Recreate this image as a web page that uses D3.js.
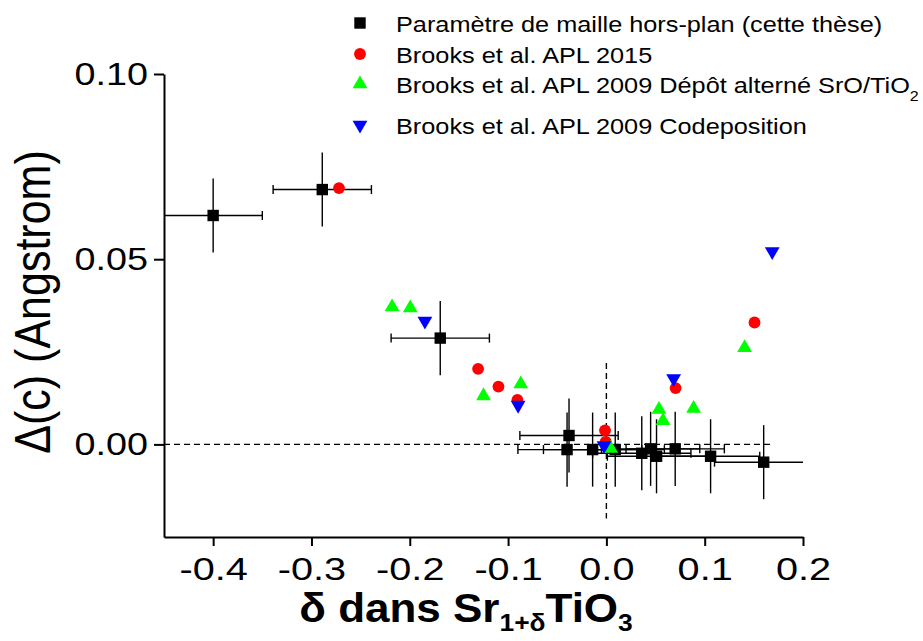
<!DOCTYPE html>
<html>
<head>
<meta charset="utf-8">
<script src="https://cdn.jsdelivr.net/npm/d3@7/dist/d3.min.js"></script>
<style>
  body { margin: 0; background: #fff; }
  svg { display: block; font-family: "Liberation Sans", Arial, sans-serif; }
</style>
</head>
<body>
<svg id="chart" width="923" height="641"></svg>
<script>
// cette thèse : paramètre de maille hors-plan, avec barres d'erreur
var theseX    = [-0.400, -0.289, -0.169, -0.038, -0.040, -0.014, 0.009, 0.036, 0.045, 0.051, 0.070, 0.106, 0.160];
var theseY    = [0.0618, 0.0688, 0.0287, 0.0024, -0.0014, -0.0014, -0.0014, -0.0024, -0.0012, -0.0032, -0.0012, -0.0032, -0.0048];
var theseXErr = [0.05, 0.05, 0.05, 0.05, 0.05, 0.05, 0.05, 0.05, 0.05, 0.05, 0.05, 0.05, 0.05];
var theseYErr = [0.01, 0.01, 0.01, 0.01, 0.01, 0.01, 0.01, 0.01, 0.01, 0.01, 0.01, 0.01, 0.01];

// Brooks et al. APL 2015
var b2015X = [-0.272, -0.1305, -0.1098, -0.0905, -0.0014, -0.0007, 0.0704, 0.1507];
var b2015Y = [0.0692, 0.0204, 0.0156, 0.0120, 0.0038, 0.0007, 0.0152, 0.0329];

// Brooks et al. APL 2009 dépôt alterné
var b2009AltX = [-0.218, -0.1995, -0.125, -0.0871, 0.0044, 0.0535, 0.0576, 0.0887, 0.1406];
var b2009AltY = [0.0371, 0.0368, 0.0131, 0.0163, -0.0011, 0.0094, 0.0064, 0.0097, 0.0261];

// Brooks et al. APL 2009 codeposition
var b2009CoX = [-0.1846, -0.0898, -0.0024, 0.0684, 0.1687];
var b2009CoY = [0.0333, 0.0106, -0.0003, 0.0178, 0.0521];

var xMajor = [-0.4, -0.3, -0.2, -0.1, 0.0, 0.1, 0.2];
var xMinor = [-0.45, -0.35, -0.25, -0.15, -0.05, 0.05, 0.15];
var yMajor = [0.00, 0.05, 0.10];
var yMinor = [-0.025, 0.025, 0.075];

var legendLabels = [
  "Paramètre de maille hors-plan (cette thèse)",
  "Brooks et al. APL 2015",
  "Brooks et al. APL 2009 Dépôt alterné SrO/TiO",
  "Brooks et al. APL 2009 Codeposition"
];

var svg = d3.select("#chart");

var x = d3.scaleLinear().domain([-0.45, 0.2]).range([164, 803]);
var y = d3.scaleLinear().domain([-0.025, 0.10]).range([537, 74]);

var sx = 1.18; // police un peu étirée en largeur

svg.append("clipPath").attr("id", "plotclip")
  .append("rect")
    .attr("x", x(-0.45))
    .attr("y", 0)
    .attr("width", x(0.2) - x(-0.45))
    .attr("height", 641);

// lignes pointillées à zéro
svg.append("line")
  .attr("x1", x(-0.45)).attr("x2", x(0.167))
  .attr("y1", y(0)).attr("y2", y(0))
  .attr("stroke", "#000").attr("stroke-width", 1.4)
  .attr("stroke-dasharray", "6,4");
svg.append("line")
  .attr("x1", x(0)).attr("x2", x(0))
  .attr("y1", y(0.022)).attr("y2", y(-0.020))
  .attr("stroke", "#000").attr("stroke-width", 1.4)
  .attr("stroke-dasharray", "6,4");

// axes
var gx = svg.append("g").attr("transform", "translate(0," + y(-0.025) + ")");
gx.call(d3.axisBottom(x).tickValues(xMinor).tickSize(5).tickSizeOuter(0).tickFormat(""));
gx.call(d3.axisBottom(x).tickValues(xMajor).tickSize(9).tickSizeOuter(0).tickPadding(11)
  .tickFormat(function(d){ return d.toFixed(1); }));
gx.selectAll("path, line").attr("stroke", "#000").attr("stroke-width", 2);
gx.selectAll("text")
  .attr("font-size", 32)
  .attr("font-family", "Liberation Sans, Arial, sans-serif")
  .attr("fill", "#000")
  .attr("transform", "scale(1.24,1)");

var gy = svg.append("g").attr("transform", "translate(" + x(-0.45) + ",0)");
gy.call(d3.axisLeft(y).tickValues(yMinor).tickSize(5).tickSizeOuter(0).tickFormat(""));
gy.call(d3.axisLeft(y).tickValues(yMajor).tickSize(10).tickSizeOuter(0).tickPadding(7)
  .tickFormat(d3.format(".2f")));
gy.selectAll("path, line").attr("stroke", "#000").attr("stroke-width", 2);
gy.selectAll("text")
  .attr("font-size", 32)
  .attr("font-family", "Liberation Sans, Arial, sans-serif")
  .attr("fill", "#000")
  .attr("x", -16 / sx)
  .attr("transform", "scale(" + sx + ",1)");

// barres d'erreur
var these = theseX.map(function(d, i){
  return {x: d, y: theseY[i], ex: theseXErr[i], ey: theseYErr[i]};
});
var gErr = svg.append("g").attr("clip-path", "url(#plotclip)")
  .attr("stroke", "#000").attr("stroke-width", 1.4);
gErr.selectAll("line.h").data(these).enter().append("line")
  .attr("x1", function(d){ return x(d.x - d.ex); })
  .attr("x2", function(d){ return x(d.x + d.ex); })
  .attr("y1", function(d){ return y(d.y); })
  .attr("y2", function(d){ return y(d.y); });
gErr.selectAll("line.v").data(these).enter().append("line")
  .attr("x1", function(d){ return x(d.x); })
  .attr("x2", function(d){ return x(d.x); })
  .attr("y1", function(d){ return y(d.y + d.ey); })
  .attr("y2", function(d){ return y(d.y - d.ey); });
gErr.selectAll("line.capl").data(these).enter().append("line")
  .attr("x1", function(d){ return x(d.x - d.ex); })
  .attr("x2", function(d){ return x(d.x - d.ex); })
  .attr("y1", function(d){ return y(d.y) - 4.5; })
  .attr("y2", function(d){ return y(d.y) + 4.5; });
gErr.selectAll("line.capr").data(these).enter().append("line")
  .attr("x1", function(d){ return x(d.x + d.ex); })
  .attr("x2", function(d){ return x(d.x + d.ex); })
  .attr("y1", function(d){ return y(d.y) - 4.5; })
  .attr("y2", function(d){ return y(d.y) + 4.5; });

// symboles
var symSquare = d3.symbol().type(d3.symbolSquare).size(130)();
var symCircle = d3.symbol().type(d3.symbolCircle).size(110)();
var symTri = d3.symbol().type(d3.symbolTriangle).size(95)();

function drawSeries(xs, ys, path, color, rot){
  svg.append("g").selectAll("path").data(xs).enter().append("path")
    .attr("d", path)
    .attr("fill", color)
    .attr("transform", function(d, i){
      return "translate(" + x(d) + "," + y(ys[i]) + ")" + (rot ? " rotate(180)" : "");
    });
}
drawSeries(theseX, theseY, symSquare, "#000", false);
drawSeries(b2015X, b2015Y, symCircle, "#ff0000", false);
drawSeries(b2009AltX, b2009AltY, symTri, "#00ff00", false);
drawSeries(b2009CoX, b2009CoY, symTri, "#0000ff", true);

// légende
var legSyms = [
  {p: symSquare, c: "#000", r: false},
  {p: symCircle, c: "#ff0000", r: false},
  {p: symTri, c: "#00ff00", r: false},
  {p: symTri, c: "#0000ff", r: true}
];
var legY = [23, 54, 84, 125];
var gLeg = svg.append("g");
legendLabels.forEach(function(lab, i){
  gLeg.append("path")
    .attr("d", legSyms[i].p)
    .attr("fill", legSyms[i].c)
    .attr("transform", "translate(360," + legY[i] + ")" + (legSyms[i].r ? " rotate(180)" : ""));
  var t = gLeg.append("text")
    .attr("transform", "translate(396," + (legY[i] + 8.5) + ") scale(1.15,1)")
    .attr("font-size", 22)
    .attr("fill", "#000")
    .text(lab);
  if(i == 2){
    t.append("tspan").attr("font-size", 14).attr("dy", 8).text("2");
  }
});

// titres des axes
svg.append("text")
  .attr("transform", "translate(50,302) rotate(-90) scale(1,1.15)")
  .attr("text-anchor", "middle")
  .attr("font-size", 43)
  .attr("fill", "#000")
  .text("Δ(c) (Angstrom)");

var xt = svg.append("text")
  .attr("transform", "translate(466,622) scale(1.1,1)")
  .attr("text-anchor", "middle")
  .attr("font-size", 40)
  .attr("font-weight", "bold")
  .attr("fill", "#000");
xt.append("tspan").text("δ dans Sr");
xt.append("tspan").attr("font-size", 24).attr("dy", 9).text("1+δ");
xt.append("tspan").attr("dy", -9).text("TiO");
xt.append("tspan").attr("font-size", 24).attr("dy", 9).text("3");
</script>
</body>
</html>
